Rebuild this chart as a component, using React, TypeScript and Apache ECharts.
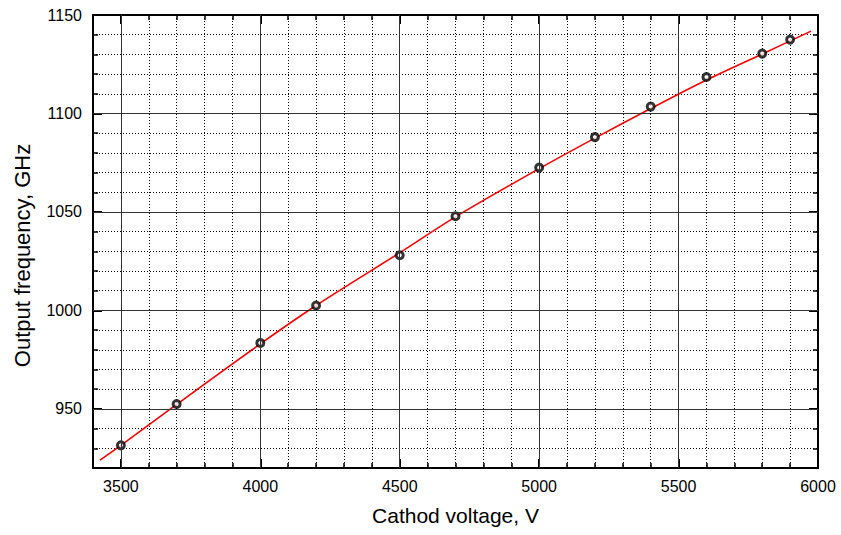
import React, { useEffect, useRef } from "react";
import * as echarts from "echarts";

// Axis ranges and tick labels
const xMin = 3400;
const xMax = 6000;
const yMin = 920;
const yMax = 1150;
const xMajorTicks = [3500, 4000, 4500, 5000, 5500, 6000];
const yMajorTicks = [950, 1000, 1050, 1100, 1150];
const xMajorGrid = [3500, 4000, 4500, 5000, 5500];
const yMajorGrid = [950, 1000, 1050, 1100];

// Measured points
const voltage = [3500, 3700, 4000, 4200, 4500, 4700, 5000, 5200, 5400, 5600, 5800, 5900];
const frequency = [931.5, 952.5, 983.5, 1002.5, 1028, 1047.8, 1072.5, 1088, 1103.5, 1118.5, 1130.4, 1137.5];

// Fitted curve
const fitVoltage = [3425, 3500, 3700, 4000, 4200, 4500, 4700, 5000, 5200, 5400, 5600, 5800, 5975];
const fitFrequency = [924, 931.5, 952.3, 983, 1002.5, 1029.3, 1047.5, 1072, 1087.5, 1102.5, 1117, 1130.2, 1141.8];

const FONT = "'Liberation Sans', Arial, sans-serif";

export default function App() {
  const ref = useRef<HTMLDivElement>(null);

  useEffect(() => {
    document.body.style.margin = "0";
    if (!ref.current) return;
    const chart = echarts.init(ref.current, null, { renderer: "svg" });

    const frameLine = { show: true, onZero: false, lineStyle: { color: "#000", width: 2 } };
    const minorTick = { show: true, inside: true, length: 5, lineStyle: { color: "#000", width: 1.5 } };
    const majorTickStyle = { color: "#000", width: 2 };
    const dotted = { show: true, lineStyle: { color: "#000", width: 1, type: [1, 2] } };
    const plain = (v: number) => String(v);

    const option: any = {
      animation: false,
      backgroundColor: "#fff",
      grid: { left: 93, right: 23, top: 15, bottom: 67, containLabel: false },
      xAxis: [
        {
          type: "value", position: "bottom", min: xMin, max: xMax, interval: 100,
          axisLine: frameLine, axisTick: minorTick, axisLabel: { show: false }, splitLine: dotted,
          name: "Cathod voltage, V", nameLocation: "middle", nameGap: 37,
          nameTextStyle: { fontSize: 21, color: "#000", fontFamily: FONT },
        },
        {
          type: "value", position: "bottom", min: xMin, max: xMax,
          axisLine: { show: false, onZero: false },
          axisTick: { show: true, inside: true, length: 9, customValues: xMajorTicks, lineStyle: majorTickStyle },
          axisLabel: { show: true, customValues: xMajorTicks, formatter: plain, fontSize: 16, color: "#000", fontFamily: FONT, margin: 10 },
          splitLine: { show: false },
        },
        {
          type: "value", position: "top", min: xMin, max: xMax, interval: 100,
          axisLine: frameLine, axisTick: minorTick, axisLabel: { show: false }, splitLine: { show: false },
        },
        {
          type: "value", position: "top", min: xMin, max: xMax,
          axisLine: { show: false, onZero: false },
          axisTick: { show: true, inside: true, length: 9, customValues: xMajorTicks, lineStyle: majorTickStyle },
          axisLabel: { show: false, customValues: xMajorTicks },
          splitLine: { show: false },
        },
      ],
      yAxis: [
        {
          type: "value", position: "left", min: yMin, max: yMax, interval: 10,
          axisLine: frameLine, axisTick: minorTick, axisLabel: { show: false }, splitLine: dotted,
          name: "Output frequency, GHz", nameLocation: "middle", nameGap: 60, nameRotate: 90,
          nameTextStyle: { fontSize: 22, color: "#000", fontFamily: FONT, padding: [0, 28, 0, 0] },
        },
        {
          type: "value", position: "left", min: yMin, max: yMax,
          axisLine: { show: false, onZero: false },
          axisTick: { show: true, inside: true, length: 9, customValues: yMajorTicks, lineStyle: majorTickStyle },
          axisLabel: { show: true, customValues: yMajorTicks, formatter: plain, fontSize: 16, color: "#000", fontFamily: FONT, margin: 11 },
          splitLine: { show: false },
        },
        {
          type: "value", position: "right", min: yMin, max: yMax, interval: 10,
          axisLine: frameLine, axisTick: minorTick, axisLabel: { show: false }, splitLine: { show: false },
        },
        {
          type: "value", position: "right", min: yMin, max: yMax,
          axisLine: { show: false, onZero: false },
          axisTick: { show: true, inside: true, length: 9, customValues: yMajorTicks, lineStyle: majorTickStyle },
          axisLabel: { show: false, customValues: yMajorTicks },
          splitLine: { show: false },
        },
      ],
      series: [
        {
          type: "line",
          xAxisIndex: 0,
          yAxisIndex: 0,
          z: 1,
          silent: true,
          symbol: "none",
          data: [],
          markLine: {
            silent: true,
            symbol: ["none", "none"],
            label: { show: false },
            lineStyle: { color: "#333", width: 1, type: "solid" },
            data: [
              ...xMajorGrid.map((v) => ({ xAxis: v })),
              ...yMajorGrid.map((v) => ({ yAxis: v })),
            ],
          },
        },
        {
          type: "line",
          xAxisIndex: 0,
          yAxisIndex: 0,
          z: 2,
          smooth: 0.3,
          symbol: "none",
          lineStyle: { color: "#ff0000", width: 1.6 },
          data: fitVoltage.map((v, i) => [v, fitFrequency[i]]),
        },
        {
          type: "scatter",
          xAxisIndex: 0,
          yAxisIndex: 0,
          z: 3,
          symbol: "circle",
          symbolSize: 7,
          itemStyle: { color: "#fff", borderColor: "#000", borderWidth: 3 },
          data: voltage.map((v, i) => [v, frequency[i]]),
        },
      ],
    };

    chart.setOption(option);
    return () => chart.dispose();
  }, []);

  return <div ref={ref} style={{ width: 841, height: 535 }} />;
}
